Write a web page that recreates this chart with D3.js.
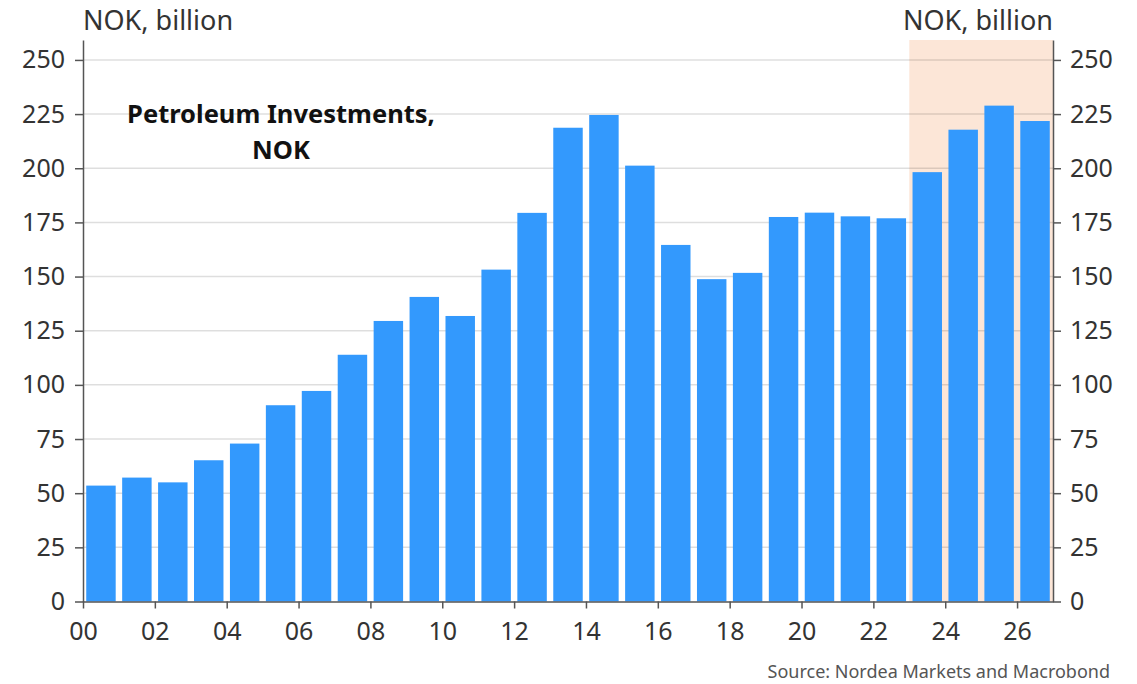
<!DOCTYPE html>
<html lang="en">
  <head>
    <meta charset="UTF-8" />
    <title>Petroleum Investments, NOK</title>
    <script src="https://d3js.org/d3.v7.min.js"></script>
    <style>
      body { margin: 0; background: #fff; }
      svg text { font-family: 'Noto Sans', 'Open Sans', sans-serif; }
    </style>
  </head>
  <body>
    <div class="chart"></div>
    <script>
      // data (NOK billion)
      const years = d3.range(2000, 2027)
      const investments = [
        53.5, 57.2, 55.0, 65.2, 72.9, 90.6, 97.2, 113.9, 129.5, 140.6, 131.8, 153.2, 179.4, 218.7,
        224.6, 201.2, 164.6, 148.8, 151.7, 177.5, 179.5, 177.8, 176.9, 198.2, 217.8, 228.9, 221.8
      ]
      const yTicks = [0, 25, 50, 75, 100, 125, 150, 175, 200, 225, 250]
      const xTickYears = d3.range(2000, 2027, 2)
      const forecastFrom = 2023
      const unitLabel = 'NOK, billion'
      const titleLines = ['Petroleum Investments,', 'NOK']
      const sourceText = 'Source: Nordea Markets and Macrobond'

      const width = 1137
      const height = 684
      const plotLeft = 83
      const plotRight = 1053
      const plotTop = 40
      const plotBottom = 601.5

      const svg = d3.select('.chart').append('svg').attr('width', width).attr('height', height)

      const x = d3.scaleLinear().domain([2000, 2027]).range([plotLeft, plotRight])
      const xBand = d3.scaleBand().domain(years).range([plotLeft, plotRight]).paddingInner(0.18).paddingOuter(0.09)
      const y = d3.scaleLinear().domain([0, 259.2]).range([plotBottom, plotTop])

      // forecast shading
      svg
        .append('rect')
        .attr('x', x(forecastFrom))
        .attr('y', plotTop)
        .attr('width', x(2027) - x(forecastFrom))
        .attr('height', plotBottom - plotTop)
        .attr('fill', '#fce6d7')

      // grid
      svg
        .append('g')
        .selectAll('line')
        .data(yTicks.filter((d) => d > 0))
        .join('line')
        .attr('x1', plotLeft)
        .attr('x2', plotRight)
        .attr('y1', (d) => y(d))
        .attr('y2', (d) => y(d))
        .attr('stroke', 'rgba(0,0,0,0.13)')
        .attr('stroke-width', 1.5)

      // bars
      svg
        .append('g')
        .selectAll('rect')
        .data(years)
        .join('rect')
        .attr('x', (d) => xBand(d))
        .attr('width', xBand.bandwidth())
        .attr('y', (d, i) => y(investments[i]))
        .attr('height', (d, i) => y(0) - y(investments[i]))
        .attr('fill', '#3399fd')

      const styleAxis = (g) => {
        g.select('.domain').attr('stroke', '#555').attr('stroke-width', 1.5)
        g.selectAll('.tick line').attr('stroke', '#555').attr('stroke-width', 1.5)
        g.selectAll('.tick text').attr('fill', '#333').style('font-size', '25px')
      }

      svg
        .append('g')
        .attr('transform', `translate(${plotLeft},0)`)
        .call(d3.axisLeft(y).tickValues(yTicks).tickSize(8).tickPadding(10).tickSizeOuter(0))
        .call(styleAxis)

      svg
        .append('g')
        .attr('transform', `translate(${plotRight},0)`)
        .call(d3.axisRight(y).tickValues(yTicks).tickSize(8).tickPadding(9).tickSizeOuter(0))
        .call(styleAxis)

      svg
        .append('g')
        .attr('transform', `translate(0,${plotBottom})`)
        .call(
          d3
            .axisBottom(x)
            .tickValues(xTickYears)
            .tickFormat((d) => String(d % 100).padStart(2, '0'))
            .tickSize(7)
            .tickPadding(14)
            .tickSizeOuter(0)
        )
        .call(styleAxis)

      // unit labels
      svg
        .append('text')
        .attr('x', plotLeft)
        .attr('y', 30)
        .attr('fill', '#333')
        .style('font-size', '27px')
        .text(unitLabel)

      svg
        .append('text')
        .attr('x', plotRight)
        .attr('y', 30)
        .attr('text-anchor', 'end')
        .attr('fill', '#333')
        .style('font-size', '27px')
        .text(unitLabel)

      // title
      svg
        .append('text')
        .attr('text-anchor', 'middle')
        .attr('fill', '#111')
        .style('font-size', '25.5px')
        .style('font-weight', 'bold')
        .selectAll('tspan')
        .data(titleLines)
        .join('tspan')
        .attr('x', 281)
        .attr('y', (d, i) => 123 + i * 36)
        .text((d) => d)

      // source
      svg
        .append('text')
        .attr('x', 1110)
        .attr('y', 678)
        .attr('text-anchor', 'end')
        .attr('fill', '#555')
        .style('font-size', '18px')
        .text(sourceText)
    </script>
  </body>
</html>
